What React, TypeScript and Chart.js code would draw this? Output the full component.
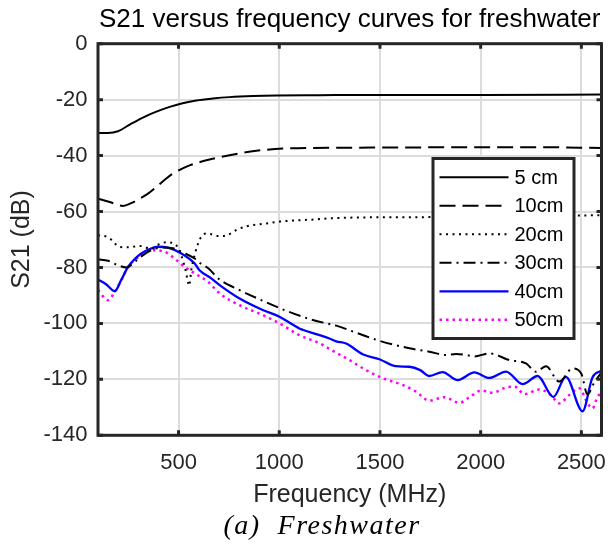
import React, { useEffect, useRef } from "react";
import { Chart, registerables } from "chart.js";

Chart.register(...registerables);

const FONT = '"Liberation Sans", Arial, Helvetica, sans-serif';

// ---- data (frequency in MHz, S21 in dB) ----
const freq5 = [100, 150, 199, 260, 323, 390, 456, 520, 588, 670, 753, 870, 985, 1200, 1500, 2000, 2600];
const s21_5cm = [-31.9, -31.9, -31.3, -28.8, -26.4, -24.3, -22.6, -21.3, -20.3, -19.6, -19.1, -18.7, -18.5, -18.4, -18.3, -18.3, -18.2];

const freq10 = [100, 158, 224, 265, 307, 350, 390, 430, 472, 515, 555, 638, 753, 886, 1018, 1300, 1600, 2000, 2300, 2600];
const s21_10cm = [-55.4, -56.6, -58, -57, -55.4, -53.5, -51.2, -48.7, -46.4, -44.8, -43.5, -41.7, -39.9, -38.3, -37.5, -37.2, -37.1, -37.0, -37.0, -37.3];

const freq20 = [100, 150, 211, 250, 307, 365, 400, 440, 480, 510, 535, 553, 563, 580, 605, 638, 704, 740, 790, 836, 935, 1001, 1183, 1265, 1431, 1745, 2000, 2400, 2600];
const s21_20cm = [-68.5, -69.2, -72.7, -72.8, -72.3, -73.3, -71.8, -71.0, -71.5, -75, -81, -86.5, -81, -75.5, -70, -67.8, -68.8, -68.5, -66.5, -65.3, -64.3, -63.6, -62.8, -62.4, -62.1, -62.0, -61.9, -61.5, -61.3];

const freq30 = [100, 150, 199, 241, 282, 348, 414, 480, 514, 580, 604, 646, 704, 803, 918, 1035, 1167, 1249, 1283, 1400, 1497, 1646, 1745, 1828, 1878, 1927, 1969, 2043, 2142, 2225, 2275, 2324, 2390, 2456, 2500, 2530, 2565, 2600];
const s21_30cm = [-77.1, -77.6, -79.2, -80, -78, -74.4, -72.9, -73.2, -74.4, -76.8, -78.3, -80.2, -84.3, -88.1, -91.9, -95.5, -98.8, -100.2, -100.8, -103.8, -106.2, -108.9, -110.1, -111.3, -110.9, -111.3, -111.8, -110.7, -113.1, -114.3, -117.3, -115.3, -120.8, -116.1, -118, -125.3, -121, -117.5];

const freq40 = [100, 140, 183, 215, 249, 282, 315, 360, 398, 447, 514, 580, 604, 662, 704, 803, 918, 1001, 1100, 1183, 1249, 1283, 1332, 1414, 1497, 1580, 1646, 1700, 1745, 1811, 1886, 1969, 2043, 2126, 2208, 2283, 2361, 2423, 2506, 2555, 2600];
const s21_40cm = [-84.3, -86, -88.5, -84.5, -79.8, -77, -75, -73.3, -72.6, -72.9, -75, -78.6, -81, -83.9, -86.3, -91.1, -95.2, -97.6, -101.8, -103.8, -105.4, -106.4, -107.2, -111, -112.8, -115.3, -115.5, -116.7, -118.8, -117.4, -120.3, -117.5, -119.5, -117.2, -121.7, -118.8, -126.3, -119.1, -131.4, -119.3, -116.9];

const freq50 = [100, 150, 183, 216, 249, 315, 365, 431, 480, 530, 580, 646, 704, 803, 918, 1001, 1100, 1200, 1266, 1348, 1431, 1514, 1613, 1679, 1745, 1820, 1894, 1944, 2002, 2059, 2126, 2170, 2217, 2291, 2349, 2390, 2440, 2489, 2530, 2555, 2580, 2600];
const s21_50cm = [-88.1, -91.7, -88.7, -84.5, -79.8, -75.6, -73.8, -74.4, -76.8, -79.8, -82.1, -85.1, -89.3, -93.5, -97, -100, -104.2, -107.1, -109.8, -113.1, -116.7, -119.6, -122, -124.4, -127.6, -126.4, -128.4, -126.4, -124, -124.8, -122.9, -122.6, -125.3, -123.6, -125.6, -128.6, -125.6, -123.2, -128.4, -130.4, -126.2, -125];

const seriesLabels = ["5 cm", "10cm", "20cm", "30cm", "40cm", "50cm"];
const seriesFreqs = [freq5, freq10, freq20, freq30, freq40, freq50];
const seriesValues = [s21_5cm, s21_10cm, s21_20cm, s21_30cm, s21_40cm, s21_50cm];

const xTickValues = [500, 1000, 1500, 2000, 2500];
const yTickValues = [-140, -120, -100, -80, -60, -40, -20, 0];

// ---- styles ----
const seriesColors = ["#000000", "#000000", "#000000", "#000000", "#0000ff", "#ff00ff"];
const seriesDashes = [[], [16, 7], [2, 4.5], [12, 5, 2, 5], [], [2.5, 4]];
const seriesWidths = [2, 2, 2, 2, 2.3, 2.5];

const chartTitle = "S21 versus frequency curves for freshwater";
const xTitle = "Frequency (MHz)";
const yTitle = "S21 (dB)";
const caption = "(a)  Freshwater";

const AXIS_COLOR = "#262626";

const framePlugin = {
  id: "matlabFrame",
  afterDatasetsDraw(chart: any) {
    const { ctx, chartArea } = chart;
    const { left, right, top, bottom } = chartArea;
    const xs = chart.scales.x;
    const ys = chart.scales.y;
    ctx.save();
    ctx.strokeStyle = AXIS_COLOR;
    ctx.lineWidth = 3;
    ctx.strokeRect(left, top, right - left, bottom - top);
    const tl = 5;
    ctx.beginPath();
    xs.ticks.forEach((t: any) => {
      const px = xs.getPixelForValue(t.value);
      ctx.moveTo(px, bottom);
      ctx.lineTo(px, bottom - tl);
      ctx.moveTo(px, top);
      ctx.lineTo(px, top + tl);
    });
    ys.ticks.forEach((t: any) => {
      const py = ys.getPixelForValue(t.value);
      ctx.moveTo(left, py);
      ctx.lineTo(left + tl, py);
      ctx.moveTo(right, py);
      ctx.lineTo(right - tl, py);
    });
    ctx.stroke();
    ctx.restore();
  },
};

const legendBoxPlugin = {
  id: "legendBox",
  afterDraw(chart: any) {
    const { ctx } = chart;
    const bx = 433;
    const by = 158.5;
    const bw = 141;
    const bh = 180;
    const rowH = 28.5;
    const firstRow = 177.3;
    ctx.save();
    ctx.fillStyle = "#ffffff";
    ctx.fillRect(bx, by, bw, bh);
    ctx.lineWidth = 3;
    ctx.strokeStyle = AXIS_COLOR;
    ctx.strokeRect(bx, by, bw, bh);
    chart.data.datasets.forEach((ds: any, i: number) => {
      const y = firstRow + i * rowH;
      ctx.save();
      ctx.beginPath();
      ctx.strokeStyle = ds.borderColor;
      ctx.lineWidth = ds.borderWidth;
      ctx.setLineDash(ds.borderDash || []);
      ctx.moveTo(439.5, y);
      ctx.lineTo(508.5, y);
      ctx.stroke();
      ctx.restore();
      ctx.fillStyle = "#000000";
      ctx.font = `20px ${FONT}`;
      ctx.textBaseline = "middle";
      ctx.textAlign = "left";
      ctx.fillText(ds.label, 514.5, y + 1);
    });
    ctx.restore();
  },
};

export default function App() {
  const canvasRef = useRef<HTMLCanvasElement | null>(null);

  useEffect(() => {
    if (!canvasRef.current) return;
    const datasets = seriesLabels.map((label, i) => ({
      label,
      data: seriesFreqs[i].map((f, k) => ({ x: f, y: seriesValues[i][k] })),
      borderColor: seriesColors[i],
      backgroundColor: seriesColors[i],
      borderDash: seriesDashes[i],
      borderWidth: seriesWidths[i],
      pointRadius: 0,
      fill: false,
      cubicInterpolationMode: "monotone" as const,
    }));

    const chart = new Chart(canvasRef.current, {
      type: "line",
      data: { datasets },
      options: {
        animation: false,
        responsive: false,
        devicePixelRatio: 1,
        events: [],
        layout: { padding: { left: 7, right: 6.5, top: 0, bottom: 33.7 } },
        plugins: {
          legend: { display: false },
          tooltip: { enabled: false },
          title: {
            display: true,
            text: chartTitle,
            color: "#000000",
            fullSize: false,
            font: { family: FONT, size: 26, weight: "normal" },
            padding: { top: 4, bottom: 8.5 },
          },
        },
        scales: {
          x: {
            type: "linear",
            min: 100,
            max: 2600,
            afterBuildTicks(scale: any) {
              scale.ticks = xTickValues.map((v) => ({ value: v }));
            },
            ticks: {
              padding: 14,
              autoSkip: false,
              maxRotation: 0,
              color: AXIS_COLOR,
              font: { family: FONT, size: 22 },
              callback: (v: any) => String(v),
            },
            grid: { color: "#dcdcdc", lineWidth: 2, drawTicks: false },
            border: { display: false },
            title: {
              display: true,
              text: xTitle,
              color: AXIS_COLOR,
              font: { family: FONT, size: 25 },
              padding: { top: 0, bottom: 0 },
            },
            afterFit(scale: any) {
              scale.height = 75;
              scale.paddingLeft = 0;
              scale.paddingRight = 0;
            },
          },
          y: {
            type: "linear",
            min: -140,
            max: 0,
            afterBuildTicks(scale: any) {
              scale.ticks = yTickValues.map((v) => ({ value: v }));
            },
            ticks: {
              padding: 10.5,
              color: AXIS_COLOR,
              font: { family: FONT, size: 22 },
              callback: (v: any) => String(v),
            },
            grid: { color: "#dcdcdc", lineWidth: 2, drawTicks: false },
            border: { display: false },
            title: {
              display: true,
              text: yTitle,
              color: AXIS_COLOR,
              font: { family: FONT, size: 25 },
              padding: { top: 0, bottom: 0 },
            },
            afterFit(scale: any) {
              scale.width = 91;
              scale.paddingTop = 0;
              scale.paddingBottom = 0;
            },
          },
        },
      },
      plugins: [framePlugin, legendBoxPlugin],
    });
    return () => chart.destroy();
  }, []);

  return (
    <div
      style={{
        position: "fixed",
        left: 0,
        top: 0,
        width: 608,
        height: 544,
        background: "#ffffff",
        overflow: "hidden",
      }}
    >
      <canvas ref={canvasRef} width={608} height={544} style={{ display: "block", width: 608, height: 544 }} />
      <div
        style={{
          position: "absolute",
          left: 0,
          top: 509,
          width: 644,
          textAlign: "center",
          whiteSpace: "pre",
          font: 'italic 28px "Liberation Serif", "Times New Roman", serif',
          letterSpacing: "1.5px",
          lineHeight: "32px",
          color: "#000000",
        }}
      >
        {caption}
      </div>
    </div>
  );
}
